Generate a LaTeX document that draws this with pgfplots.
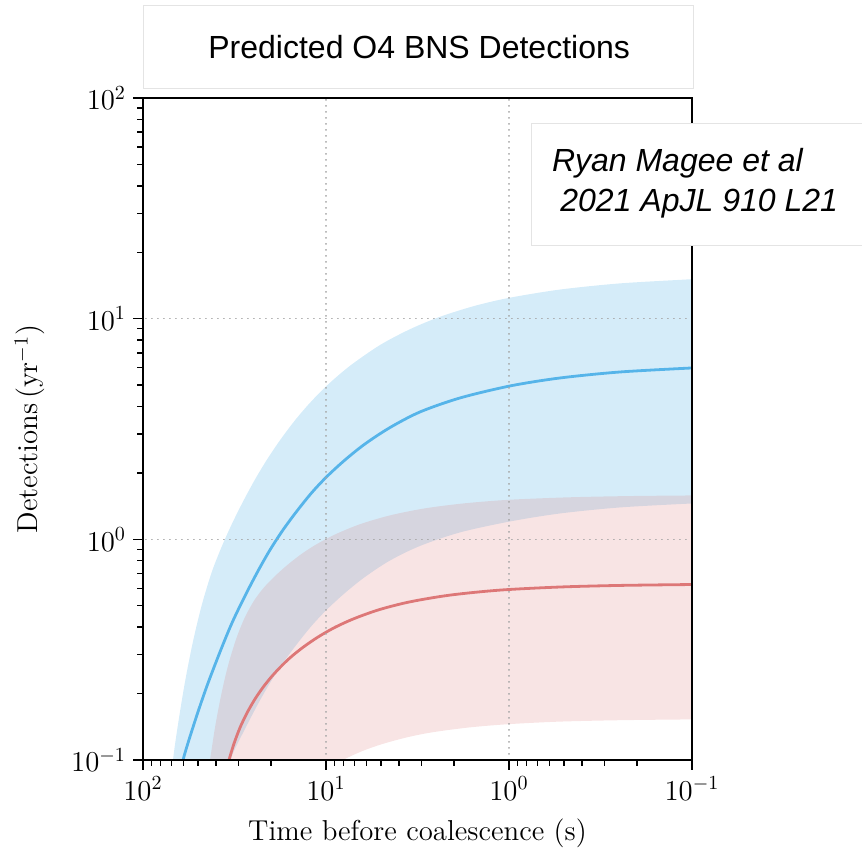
\documentclass[border=0pt]{standalone}
\usepackage{fontspec}
\usepackage{pgfplots}
\pgfplotsset{compat=1.18}
\newfontfamily\arial{Liberation Sans}
\definecolor{bl}{RGB}{86,180,233}
\definecolor{rd}{RGB}{221,119,119}
\definecolor{gridc}{RGB}{165,165,165}
\definecolor{boxc}{RGB}{228,228,228}
\begin{document}
\begin{tikzpicture}
\useasboundingbox (0,0) rectangle (431pt,426pt);
\begin{axis}[
  at={(71.5pt,46pt)}, anchor=south west,
  width=274.5pt, height=331pt, scale only axis,
  xmode=log, ymode=log, x dir=reverse,
  xmin=0.1, xmax=100, ymin=0.1, ymax=100,
  axis line style={line width=1.2pt},
  tick align=outside, tick pos=left,
  major tick length=5pt, minor tick length=3pt,
  tick style={black, line width=0.7pt},
  grid=major,
  major grid style={gridc, line width=0.8pt, line cap=round, dash pattern=on 0.1pt off 2.9pt},
  axis on top,
  tick label style={font=\fontsize{14.4}{17}\selectfont},
  label style={font=\fontsize{14.4}{17}\selectfont},
  xlabel={Time before coalescence (s)},
  ylabel={Detections\,(yr$^{-1}$)},
  xlabel style={at={(axis description cs:0.5,-0.110)}, anchor=center},
  ylabel style={at={(axis description cs:-0.206,0.5)}, anchor=center},
]
% blue band (upper edge left to right, then lower edge back)
\addplot[draw=none, fill=bl, fill opacity=0.25, smooth] coordinates {
 (75,0.05) (68.56,0.1) (64.40,0.1447) (58.96,0.2259) (53.31,0.3446) (47.60,0.5081)
 (41.98,0.7153) (37.01,0.9335) (32.64,1.177) (28.41,1.483) (24.43,1.868) (21.01,2.299)
 (17.84,2.812) (14.77,3.464) (12.23,4.157) (9.874,4.982) (7.391,6.117) (5.069,7.595)
 (3.475,8.960) (2.382,10.20) (1.534,11.44) (0.987,12.45) (0.5265,13.55) (0.2473,14.45)
 (0.1,15.10) (0.07,15.4)
 (0.07,1.47) (0.1,1.454) (0.2473,1.395) (0.5265,1.310) (0.987,1.205) (1.853,1.075)
 (3.064,0.9335) (4.470,0.8017) (6.122,0.6756) (7.875,0.5716) (9.874,0.4813)
 (11.93,0.4073) (14.40,0.3357) (17.18,0.2754) (20.23,0.2235) (23.52,0.1796)
 (27.71,0.1383) (32.64,0.1044) (36,0.075) (42,0.045) (75,0.02)
};
% red band
\addplot[draw=none, fill=rd, fill opacity=0.2, smooth] coordinates {
 (48.8,0.05) (45.85,0.0732) (43.05,0.1) (40.43,0.1401) (37.95,0.1858) (35.64,0.2360)
 (33.46,0.2884) (30.64,0.3627) (27.71,0.4445) (24.74,0.5270) (22.10,0.5980)
 (19.48,0.6679) (16.75,0.7497) (13.87,0.8488) (11.48,0.9412) (8.929,1.052)
 (6.52,1.171) (4.470,1.284) (2.877,1.382) (1.740,1.457) (0.987,1.512)
 (0.4642,1.551) (0.2182,1.571) (0.1,1.581) (0.0703,1.585)
 (0.0703,0.1530) (0.1,0.1528) (0.2473,0.1515) (0.5265,0.1493) (0.987,0.1455)
 (1.633,0.1406) (2.602,0.1337) (3.564,0.1270) (4.880,0.1184) (6.277,0.1101)
 (8.074,0.1) (10.79,0.0868) (15.73,0.0669) (26.02,0.0391) (48.8,0.02)
};
% blue median
\addplot[bl, line width=1.4pt, smooth] coordinates {
 (64.4,0.0732) (60.4,0.1) (51.96,0.1504) (44.7,0.2167) (37.95,0.3089) (32.64,0.4180)
 (27.71,0.5541) (23.52,0.7192) (20.23,0.8954) (17.18,1.103) (14.40,1.345)
 (11.93,1.632) (9.874,1.928) (7.875,2.290) (6.122,2.706) (4.470,3.211) (3.064,3.779)
 (1.853,4.372) (0.987,4.956) (0.5265,5.386) (0.2473,5.734) (0.1,5.979)
};
% red median
\addplot[rd, line width=1.4pt, smooth] coordinates {
 (35.64,0.0856) (33.89,0.1) (31.82,0.1187) (29.51,0.1401) (27.02,0.1634)
 (24.43,0.1890) (22.10,0.2133) (19.98,0.2370) (17.84,0.2625) (15.73,0.2905)
 (13.36,0.3240) (11.06,0.3608) (8.929,0.3994) (6.94,0.4390) (5.069,0.4813)
 (3.475,0.5210) (2.101,0.5588) (1.120,0.5888) (0.5265,0.6081) (0.2473,0.6183)
 (0.1,0.6241)
};
\end{axis}
% title box
\draw[boxc, line width=0.5pt, fill=white] (71.5pt,381.7pt) rectangle (346.5pt,423.3pt);
\node[anchor=base west, inner sep=0pt, font=\arial\fontsize{16}{19}\selectfont] at (104pt,396.5pt) {Predicted O4 BNS Detections};
% citation box
\draw[boxc, line width=0.5pt, fill=white] (265.8pt,303pt) rectangle (450pt,364.3pt);
\node[anchor=base west, inner sep=0pt, font=\arial\itshape\fontsize{16}{19}\selectfont] at (275.8pt,340.2pt) {Ryan Magee et al};
\node[anchor=base west, inner sep=0pt, font=\arial\itshape\fontsize{16}{19}\selectfont] at (280pt,320.2pt) {2021 ApJL 910 L21};
\end{tikzpicture}
\end{document}
